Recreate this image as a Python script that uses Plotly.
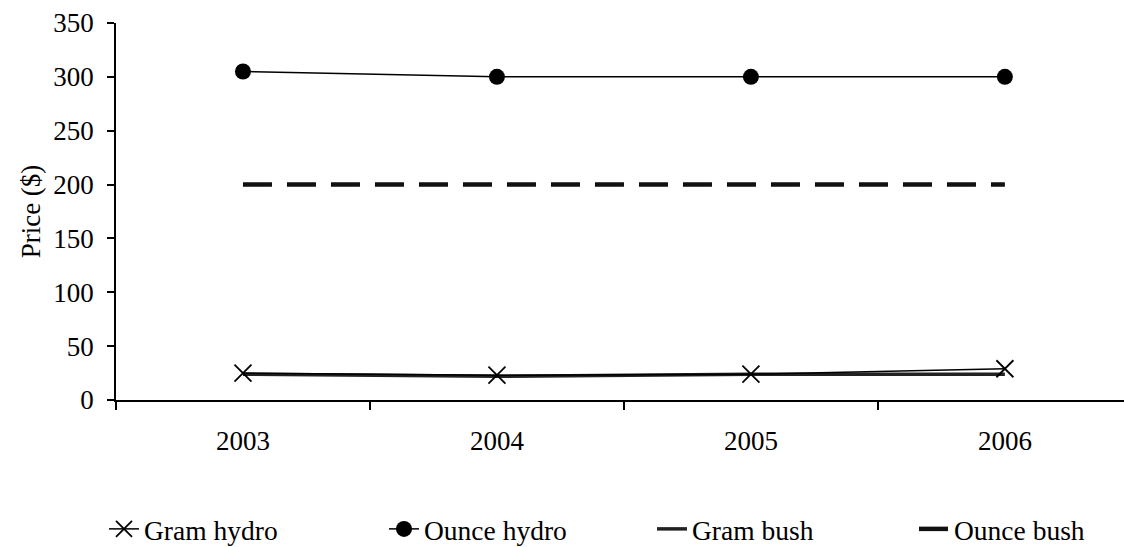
import plotly.graph_objects as go

years = ["2003", "2004", "2005", "2006"]
gram_hydro = [25, 23, 24, 29]
ounce_hydro = [305, 300, 300, 300]
gram_bush = [24, 22, 24, 24]
ounce_bush = [200, 200, 200, 200]
y_ticks = [0, 50, 100, 150, 200, 250, 300, 350]

FONT = "Liberation Serif"
W, H = 1124, 547
fig = go.Figure()

fig.add_trace(go.Scatter(x=years, y=gram_bush, name="Gram bush", mode="lines",
                         line=dict(color="#222222", width=3.5), legend="legend3"))
fig.add_trace(go.Scatter(x=years, y=ounce_bush, name="Ounce bush", mode="lines",
                         line=dict(color="#111111", width=4.5, dash="29px,15px"), legend="legend4"))
fig.add_trace(go.Scatter(x=years, y=gram_hydro, name="Gram hydro", mode="lines+markers",
                         line=dict(color="black", width=1.5),
                         marker=dict(symbol="x-thin-open", size=17, line=dict(color="black", width=1.8)),
                         legend="legend"))
fig.add_trace(go.Scatter(x=years, y=ounce_hydro, name="Ounce hydro", mode="lines+markers",
                         line=dict(color="black", width=1.5),
                         marker=dict(symbol="circle", size=16, color="black"),
                         legend="legend2"))

def leg(xpx):
    return dict(orientation="h", xref="container", yref="container",
                x=xpx / W, xanchor="left", y=(H - 529) / H, yanchor="middle",
                font=dict(family=FONT, size=27.5, color="black"), bgcolor="rgba(0,0,0,0)")

fig.update_layout(
    width=W, height=H,
    margin=dict(l=116, r=0, t=23, b=147, autoexpand=False),
    paper_bgcolor="white", plot_bgcolor="white",
    font=dict(family=FONT, size=27, color="black"),
    showlegend=True,
    legend=leg(104), legend2=leg(384), legend3=leg(652), legend4=leg(914),
    xaxis=dict(type="category", range=[-0.5, 3.469], showgrid=False, zeroline=False,
               showline=True, linecolor="black", linewidth=1.5,
               ticks="outside", ticklen=8, tickwidth=1.5, tickcolor="black",
               tickson="boundaries", ticklabelstandoff=16, fixedrange=True,
               tickfont=dict(family=FONT, size=27)),
    yaxis=dict(range=[0, 350], tickvals=y_ticks, showgrid=False, zeroline=False,
               showline=True, linecolor="black", linewidth=1.5,
               ticks="outside", ticklen=7, tickwidth=1.5, tickcolor="black",
               ticklabelstandoff=8, tickfont=dict(family=FONT, size=27),
               title=dict(text="Price ($)", standoff=5, font=dict(family=FONT, size=27)),
               fixedrange=True),
)

fig.write_html("out.html")
